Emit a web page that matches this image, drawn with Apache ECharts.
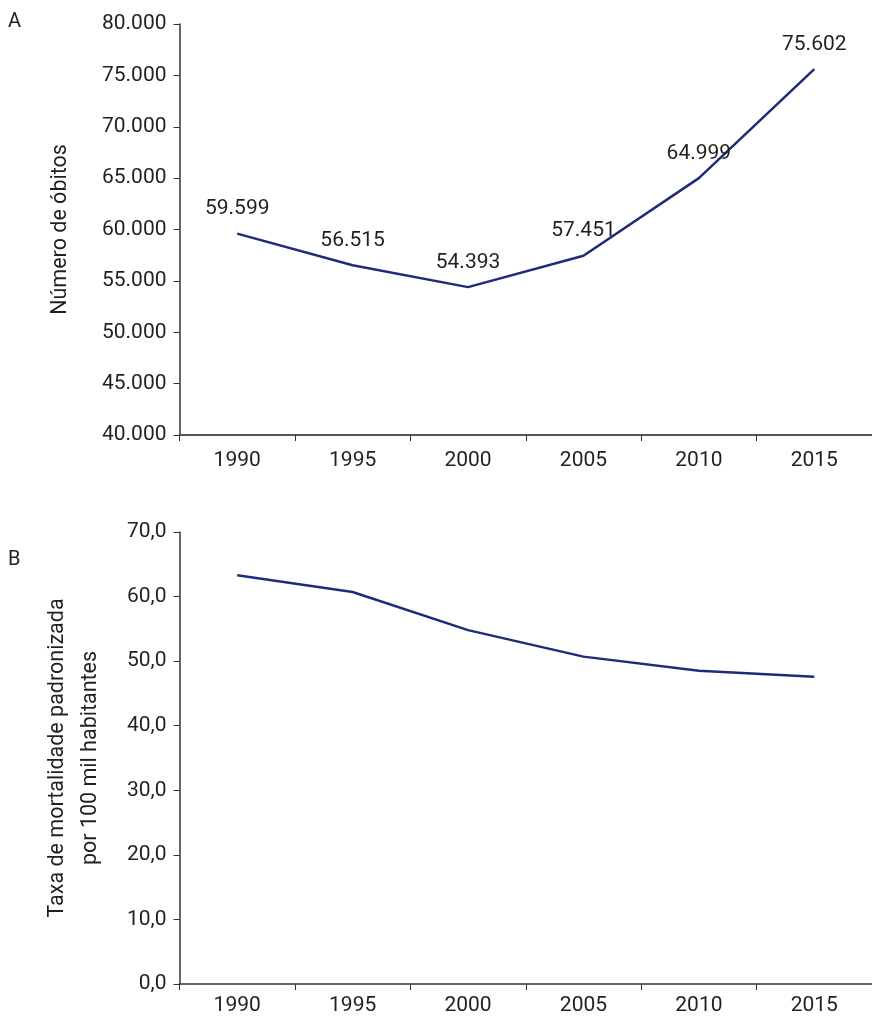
<!DOCTYPE html>
<html>
<head>
<meta charset="utf-8">
<script src="https://cdn.jsdelivr.net/npm/echarts@6/dist/echarts.min.js"></script>
<style>
html,body{margin:0;padding:0;background:#fff;}
#chart{width:872px;height:1017px;}
</style>
</head>
<body>
<div id="chart"></div>
<script>
const years = ['1990','1995','2000','2005','2010','2015'];
const deaths = [59599, 56515, 54393, 57451, 64999, 75602];
const rates = [63.3, 60.7, 54.8, 50.7, 48.5, 47.6];
const nameA = 'Número de óbitos';
const nameB = 'Taxa de mortalidade padronizada\npor 100 mil habitantes';

const FONT = 'Roboto';
const TXT = '#231f20';
const LINE = '#1f2a78';
const AX = '#333';

function fmtThousands(v){
  return String(v).replace(/\B(?=(\d{3})+(?!\d))/g, '.');
}
function fmtDec(v){
  return v.toFixed(1).replace('.', ',');
}

const chart = echarts.init(document.getElementById('chart'), null, {renderer:'canvas'});
const xCommon = {
  type:'category',
  data: years,
  boundaryGap:true,
  axisTick:{show:true,length:6,lineStyle:{color:AX,width:1}},
  axisLabel:{color:TXT,fontFamily:FONT,fontSize:21},
  splitLine:{show:false}
};
const yCommon = {
  type:'value',
  axisLine:{show:true,lineStyle:{color:AX,width:1.5}},
  axisTick:{show:true,length:6,lineStyle:{color:AX,width:1}},
  splitLine:{show:false},
  nameLocation:'middle',
  nameTextStyle:{color:TXT,fontFamily:FONT,fontSize:21.5}
};
chart.setOption({
  animation:false,
  backgroundColor:'#fff',
  graphic:[
    {type:'text',left:8,top:12,style:{text:'A',font:'20px Roboto',fill:TXT}},
    {type:'text',left:8,top:550,style:{text:'B',font:'20px Roboto',fill:TXT}}
  ],
  grid:[
    {left:179.5,top:24,width:696,height:411},
    {left:179.5,top:532,width:696,height:452}
  ],
  xAxis:[
    Object.assign({}, xCommon, {gridIndex:0,
      axisLine:{lineStyle:{color:'#555',width:2}},
      axisLabel:Object.assign({}, xCommon.axisLabel,{margin:15})}),
    Object.assign({}, xCommon, {gridIndex:1,
      axisLine:{lineStyle:{color:AX,width:1.5}},
      axisLabel:Object.assign({}, xCommon.axisLabel,{margin:11})})
  ],
  yAxis:[
    Object.assign({}, yCommon, {gridIndex:0,min:40000,max:80000,interval:5000,
      name:nameA,nameGap:108,
      axisLabel:{color:TXT,fontFamily:FONT,fontSize:21,margin:13,formatter:fmtThousands}}),
    Object.assign({}, yCommon, {gridIndex:1,min:0,max:70,interval:10,
      name:nameB,nameGap:72,
      nameTextStyle:{color:TXT,fontFamily:FONT,fontSize:21.5,lineHeight:33},
      axisLabel:{color:TXT,fontFamily:FONT,fontSize:21,margin:13,formatter:fmtDec}})
  ],
  series:[
    {type:'line',xAxisIndex:0,yAxisIndex:0,data:deaths,
      symbol:'circle',symbolSize:0.1,showSymbol:true,
      lineStyle:{color:LINE,width:2.5},itemStyle:{color:LINE},
      label:{show:true,position:'top',distance:14,color:TXT,fontFamily:FONT,fontSize:21,
        formatter:p=>fmtThousands(p.value)}},
    {type:'line',xAxisIndex:1,yAxisIndex:1,data:rates,
      symbol:'none',
      lineStyle:{color:LINE,width:2.5}}
  ]
});
</script>
</body>
</html>
